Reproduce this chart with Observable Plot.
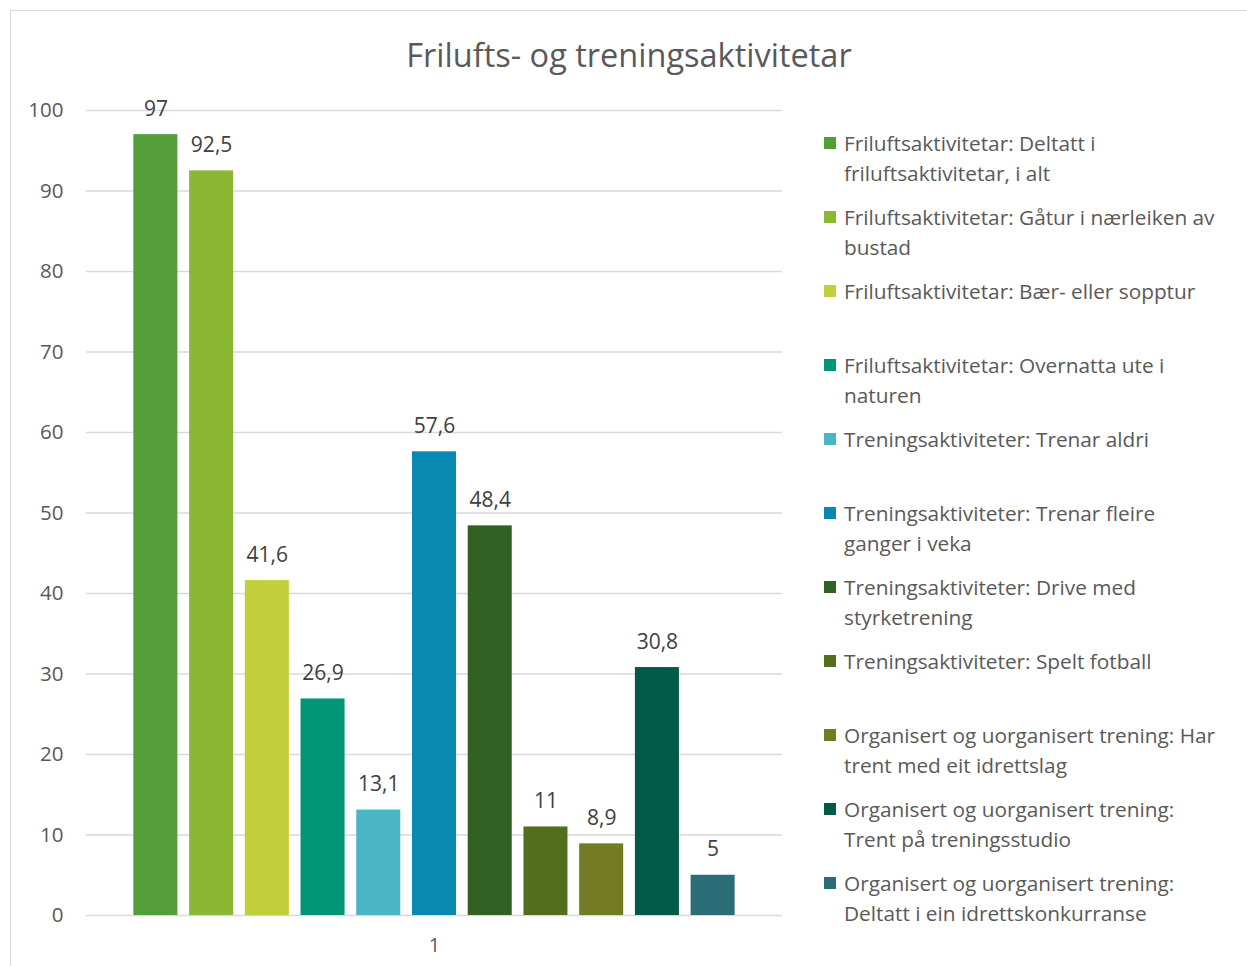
<!DOCTYPE html>
<html>
<head>
<meta charset="utf-8">
<script src="https://cdn.jsdelivr.net/npm/d3@7"></script>
<script src="https://cdn.jsdelivr.net/npm/@observablehq/plot@0.6"></script>
<style>
  html, body { margin: 0; padding: 0; background: #fff; }
  #wrap { position: relative; width: 1247px; height: 966px; overflow: hidden; font-family: "Open Sans", sans-serif; }
  #frame { position: absolute; left: 10px; top: 10px; width: 1260px; height: 980px; border: 1px solid #d9d9d9; box-sizing: border-box; }
  #title { position: absolute; left: 0; top: 34px; width: 1258px; text-align: center; font-size: 32.5px; line-height: 42px; color: #595959; }
  #chart { position: absolute; left: 0; top: 90px; }
  #legend { position: absolute; left: 824px; top: 128px; width: 420px; }
  .item { position: relative; height: 74px; }
  .sw { position: absolute; left: 0; top: 9px; width: 12px; height: 12px; }
  .lab { position: absolute; left: 20px; top: 0; width: 382px; font-size: 20.8px; line-height: 30px; color: #595959; }
</style>
</head>
<body>
<div id="wrap">
  <div id="frame"></div>
  <div id="title"></div>
  <div id="chart"></div>
  <div id="legend"></div>
</div>
<script>
const title = "Frilufts- og treningsaktivitetar";
const groups = ["1"];
const series = [
  "Friluftsaktivitetar: Deltatt i friluftsaktivitetar, i alt",
  "Friluftsaktivitetar: Gåtur i nærleiken av bustad",
  "Friluftsaktivitetar: Bær- eller sopptur",
  "Friluftsaktivitetar: Overnatta ute i naturen",
  "Treningsaktiviteter: Trenar aldri",
  "Treningsaktiviteter: Trenar fleire ganger i veka",
  "Treningsaktiviteter: Drive med styrketrening",
  "Treningsaktiviteter: Spelt fotball",
  "Organisert og uorganisert trening: Har trent med eit idrettslag",
  "Organisert og uorganisert trening: Trent på treningsstudio",
  "Organisert og uorganisert trening: Deltatt i ein idrettskonkurranse"
];
const values = [97, 92.5, 41.6, 26.9, 13.1, 57.6, 48.4, 11, 8.9, 30.8, 5];
const colors = ["#549E39", "#8AB833", "#C0CF3A", "#029676", "#4AB5C4", "#0989B1",
                "#325F22", "#536E1F", "#737C23", "#015A47", "#2C6C76"];
const yTicks = d3.range(0, 101, 10);

const data = series.map((s, i) => ({group: groups[0], series: s, value: values[i]}));
const fmt = v => String(v).replace(".", ",");

document.getElementById("title").textContent = title;

const chart = Plot.plot({
  width: 800,
  height: 876,
  marginLeft: 86,
  marginRight: 18,
  marginTop: 20,
  marginBottom: 51,
  style: {fontFamily: "Open Sans", fontSize: "20px", color: "#595959", background: "transparent", overflow: "visible"},
  fx: {domain: groups, padding: 0, round: false, label: null, tickSize: 0, tickPadding: 22},
  x: {domain: series, paddingInner: 0.21, paddingOuter: 0.85, round: false, axis: null},
  y: {domain: [0, 100], label: null, axis: null},
  color: {domain: series, range: colors},
  marks: [
    Plot.gridY(yTicks, {stroke: "#d9d9d9", strokeOpacity: 1, strokeWidth: 1.5}),
    Plot.axisY(yTicks, {tickSize: 0, tickPadding: 23, label: null, fill: "#595959", fontSize: 20.5}),
    Plot.barY(data, {fx: "group", x: "series", y: "value", fill: "series"}),
    Plot.text(data, {fx: "group", x: "series", y: "value", text: d => fmt(d.value),
      lineAnchor: "bottom", dy: -19, fill: "#404040", fontSize: 21})
  ]
});
document.getElementById("chart").appendChild(chart);

const legend = document.getElementById("legend");
series.forEach((s, i) => {
  const item = document.createElement("div");
  item.className = "item";
  const sw = document.createElement("div");
  sw.className = "sw";
  sw.style.background = colors[i];
  const lab = document.createElement("div");
  lab.className = "lab";
  lab.textContent = s;
  item.appendChild(sw);
  item.appendChild(lab);
  legend.appendChild(item);
});
</script>
</body>
</html>
